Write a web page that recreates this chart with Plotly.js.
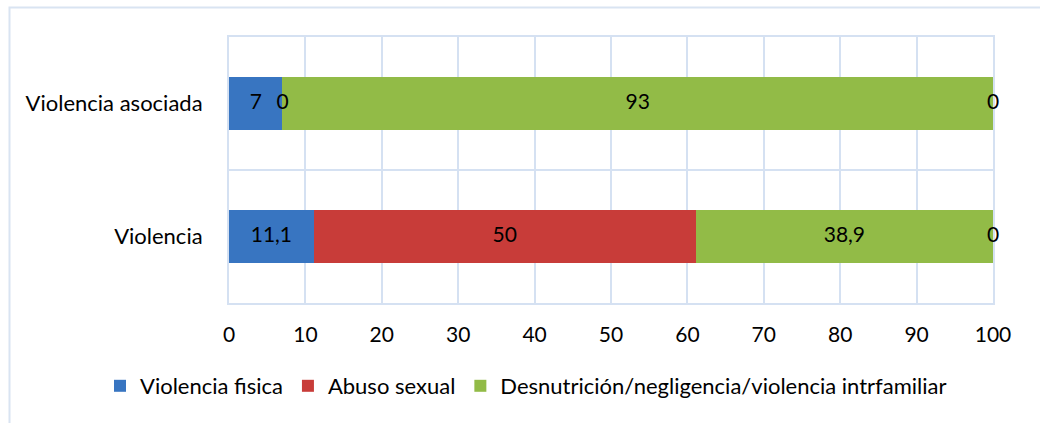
<!DOCTYPE html>
<html>
<head>
<meta charset="utf-8">
<script src="https://cdn.plot.ly/plotly-3.0.1.min.js"></script>
<style>html,body{margin:0;padding:0;background:#fff;}#chart{width:1040px;height:423px;}</style>
</head>
<body>
<div id="chart"></div>
<script>
const categories = ['Violencia', 'Violencia asociada'];
const seriesNames = ['Violencia fisica', 'Abuso sexual', 'Desnutrición/negligencia/violencia intrfamiliar', 'Otro'];
const violenciaFisica = [11.1, 7];
const abusoSexual = [50, 0];
const desnutricion = [38.9, 93];
const otro = [0, 0];
const xTicks = [0, 10, 20, 30, 40, 50, 60, 70, 80, 90, 100];

const seriesValues = [violenciaFisica, abusoSexual, desnutricion, otro];
const colors = ['#3875c1', '#c83c39', '#92bb47', '#7f7f7f'];
const legendShown = [true, true, true, false];
const FONT = 'Lato, "Open Sans", sans-serif';

const traces = [];
seriesValues.forEach((vals, i) => {
  traces.push({
    type: 'bar', orientation: 'h', name: seriesNames[i],
    x: vals, y: categories,
    marker: {color: colors[i], line: {width: 0}},
    showlegend: legendShown[i], hoverinfo: 'x+name'
  });
});

// data labels, positioned at the centre of each stacked segment
const lx = [], ly = [], lt = [];
categories.forEach((c, ci) => {
  let start = 0;
  seriesValues.forEach(vals => {
    const v = vals[ci];
    lx.push(start + v / 2); ly.push(c);
    lt.push(String(v).replace('.', ','));
    start += v;
  });
});
traces.push({
  type: 'scatter', mode: 'text', x: lx, y: ly, text: lt,
  textposition: 'middle center',
  textfont: {family: FONT, size: 21, color: '#000'},
  showlegend: false, hoverinfo: 'skip', cliponaxis: false
});

const gridC = '#d5e1f2';
const W = 764, H = 266, L = 229, T = 37;
const px = v => (v - L) / W;
const py = v => (T + H - v) / H;

const layout = {
  width: 1040, height: 423,
  margin: {l: L, r: 1040 - L - W, t: T, b: 423 - T - H, autoexpand: false},
  paper_bgcolor: '#fff', plot_bgcolor: '#fff',
  barmode: 'stack', bargap: 0.6,
  separators: ',.',
  font: {family: FONT, size: 21, color: '#000'},
  xaxis: {
    range: [0, 100], tickvals: xTicks, ticktext: xTicks.map(String),
    showgrid: true, gridcolor: gridC, gridwidth: 2,
    showline: true, linecolor: gridC, linewidth: 2, mirror: true,
    zeroline: false, ticks: '', ticklabelstandoff: 12, layer: 'below traces',
    tickfont: {family: FONT, size: 21, color: '#000'}, fixedrange: true
  },
  yaxis: {
    type: 'category', range: [-0.5, 1.5], tickson: 'boundaries',
    showgrid: true, gridcolor: gridC, gridwidth: 2,
    showline: true, linecolor: gridC, linewidth: 2, mirror: true,
    ticks: '', ticklabelstandoff: 20, layer: 'below traces',
    tickfont: {family: FONT, size: 22, color: '#000'}, fixedrange: true
  },
  legend: {
    orientation: 'h',
    x: px(100), xanchor: 'left', y: py(386), yanchor: 'middle',
    font: {family: FONT, size: 22, color: '#000'}, itemwidth: 30,
    traceorder: 'normal', bgcolor: 'rgba(0,0,0,0)'
  },
  shapes: [{
    type: 'rect', xref: 'paper', yref: 'paper', layer: 'below',
    x0: px(9.5), x1: px(1060), y0: py(440), y1: py(7.5),
    line: {color: '#d9e4f2', width: 2}, fillcolor: 'rgba(0,0,0,0)'
  }]
};

Plotly.newPlot('chart', traces, layout, {displayModeBar: false, staticPlot: true});
</script>
</body>
</html>
